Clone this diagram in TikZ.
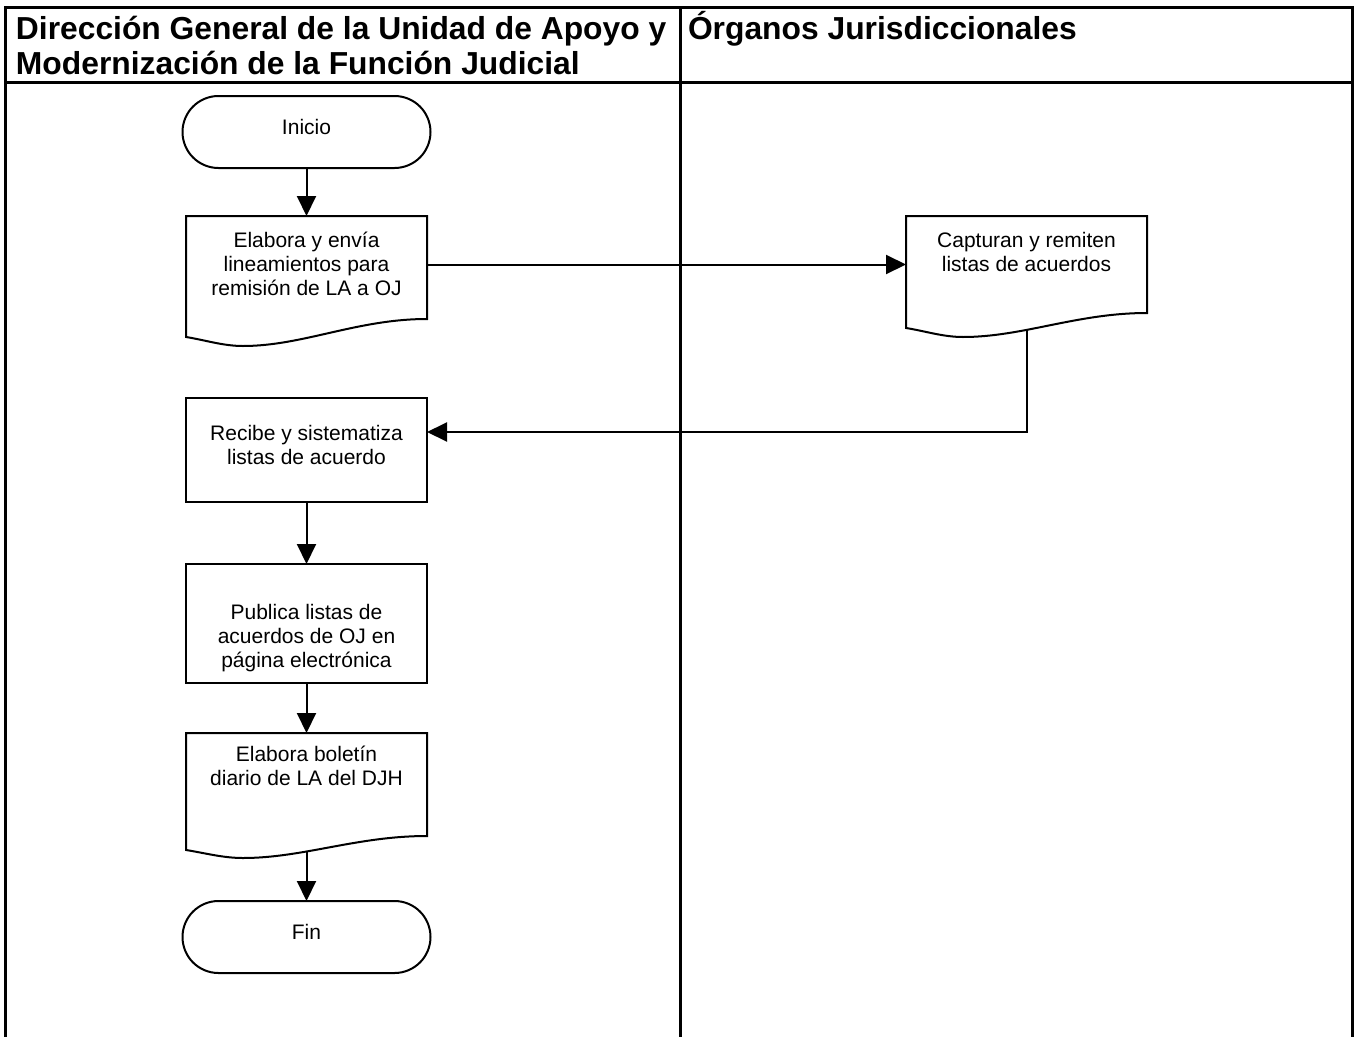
\documentclass[tikz,border=0pt]{standalone}
\usepackage{fontspec}
\setmainfont{Liberation Sans}
\newfontfamily\hdrfont{Liberation Sans}
\newfontfamily\bodyfont{Liberation Sans}
\usetikzlibrary{arrows.meta,calc}
\pgfdeclarelayer{connlayer}
\pgfdeclarelayer{outlinelayer}
\pgfsetlayers{connlayer,outlinelayer,main}

% #1 height, #2 width, #3 first baseline from top, #4 text
\newcommand\flowtext[4]{\parbox[c][#1][t]{#2}{\centering\bodyfont\fontsize{21}{24}\selectfont\rule{0pt}{#3}#4\par}}
% document outline: #1 node, #2 left drop, #3 lowest drop
\newcommand\docline[3]{%
  \draw[shapeline, fill=white] (#1.north west) -- (#1.north east) -- (#1.south east)
    .. controls +(-70,0) and +(60,0) .. ($(#1.south west)+(57,#3)$)
    .. controls +(-20,0) and +(19,3) .. ($(#1.south west)+(0,#2)$) -- cycle;}

\tikzset{
  shapeline/.style={line width=2pt, line join=miter},
  term/.style={shapeline, draw, fill=white, rounded corners=36pt, inner sep=0pt, outer sep=0pt},
  procbox/.style={shapeline, draw, fill=white, inner sep=0pt, outer sep=0pt},
  docbox/.style={draw=none, inner sep=0pt, outer sep=0pt},
  conn/.style={line width=2pt, -{Triangle[length=20pt,width=19pt]}},
  frame/.style={line width=3pt, line cap=rect},
  hdr/.style={anchor=base west, inner sep=0pt, outer sep=0pt}
}

\begin{document}
\begin{tikzpicture}[x=1pt, y=-1pt]
\useasboundingbox (0,0) rectangle (1354,1036);

% swimlane frame
\draw[frame] (5,1036) -- (5,7) -- (1352,7) -- (1352,1036);
\draw[frame] (5,82) -- (1352,82);
\draw[frame] (680,7) -- (680,1036);

\node[hdr] (lane1) at (16,39.5) {\parbox[t]{662pt}{\raggedright\hdrfont\bfseries\fontsize{31.8}{35}\selectfont Dirección General de la Unidad de Apoyo y\\Modernización de la Función Judicial}};
\node[hdr] (lane2) at (688,39.5) {\parbox[t]{660pt}{\raggedright\hdrfont\bfseries\fontsize{31.8}{35}\selectfont Órganos Jurisdiccionales}};

% nodes
\node[term] (inicio) at (306.5,132) {\flowtext{72pt}{248pt}{38pt}{Inicio}};
\node[docbox] (elab) at (306.5,267.5) {\flowtext{103pt}{241pt}{31pt}{Elabora y envía\\lineamientos para\\remisión de LA a OJ}};
\node[docbox] (cap) at (1026.5,264.5) {\flowtext{97pt}{241pt}{31pt}{Capturan y remiten\\listas de acuerdos}};
\node[procbox] (rec) at (306.5,450) {\flowtext{104pt}{241pt}{42pt}{Recibe y sistematiza\\listas de acuerdo}};
\node[procbox] (pub) at (306.5,623.5) {\flowtext{119pt}{241pt}{55pt}{Publica listas de\\acuerdos de OJ en\\página electrónica}};
\node[docbox] (bol) at (306.5,784.5) {\flowtext{103pt}{241pt}{28pt}{Elabora boletín\\diario de LA del DJH}};
\node[term] (fin) at (306.5,937) {\flowtext{72pt}{248pt}{38pt}{Fin}};

% document outlines
\begin{pgfonlayer}{outlinelayer}
\docline{elab}{18}{27}
\docline{cap}{15}{24}
\docline{bol}{14}{22}
\end{pgfonlayer}

% connectors
\begin{pgfonlayer}{connlayer}
\draw[conn] (inicio) -- (elab);
\draw[conn] (elab.east |- cap.west) -- (cap.west);
\draw[conn] (cap.south) |- ([yshift=18pt]rec.east);
\draw[conn] (rec) -- (pub);
\draw[conn] (pub) -- (bol);
\draw[conn] (bol.south) -- (fin.north);
\end{pgfonlayer}
\end{tikzpicture}
\end{document}
